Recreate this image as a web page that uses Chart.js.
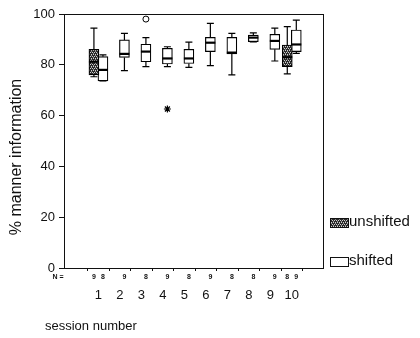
<!DOCTYPE html>
<html>
<head>
<meta charset="utf-8">
<script src="https://cdn.jsdelivr.net/npm/chart.js@4"></script>
<style>
  html, body { margin: 0; padding: 0; background: #fff; }
  #wrap { width: 420px; height: 338px; }
</style>
</head>
<body>
<div id="wrap"><canvas id="boxChart" width="420" height="338"></canvas></div>
<script>
// sessions and five-number summaries
const sessions = [1, 2, 3, 4, 5, 6, 7, 8, 9, 10];
const shiftedMin = [73.7, 77.7, 79.3, 79.3, 79.0, 79.7, 76.0, 89.0, 81.5, 84.5];
const shiftedQ1 = [73.7, 82.9, 81.2, 80.3, 80.5, 85.2, 84.3, 89.1, 86.1, 85.2];
const shiftedMed = [78.0, 84.3, 85.2, 82.5, 82.5, 88.7, 84.8, 90.7, 89.4, 88.0];
const shiftedQ3 = [83.2, 89.8, 88.1, 86.5, 86.1, 90.8, 90.8, 91.7, 92.0, 93.7];
const shiftedMax = [83.9, 92.4, 90.7, 87.1, 88.9, 96.3, 92.4, 92.6, 94.4, 97.6];
const shiftedN = ['8', '9', '8', '9', '8', '9', '8', '8', '9', '9'];

const unshiftedSessions = [1, 10];
const unshiftedMin = [75.3, 76.4];
const unshiftedQ1 = [76.0, 79.3];
const unshiftedMed = [81.2, 83.0];
const unshiftedQ3 = [86.1, 87.8];
const unshiftedMax = [94.4, 95.0];
const unshiftedN = ['9', '8'];

const outlierSessions = [3];
const outlierValues = [98];
const extremeSessions = [4];
const extremeValues = [62.6];

const yTicks = [0, 20, 40, 60, 80, 100];

const SLOT = 0.21;
const FONT = '"Liberation Sans", Arial, sans-serif';

function makeHatch() {
    const c = document.createElement('canvas');
    c.width = 4; c.height = 4;
    const g = c.getContext('2d');
    g.fillStyle = '#2a2a2a';
    g.fillRect(0, 0, 4, 4);
    g.fillStyle = '#d0d0d0';
    g.fillRect(0, 0, 1, 1);
    g.fillRect(2, 0, 1, 1);
    g.fillRect(1, 2, 1, 1);
    g.fillRect(3, 2, 1, 1);
    g.fillStyle = '#888';
    g.fillRect(1, 1, 1, 1);
    g.fillRect(3, 3, 1, 1);
    return g.createPattern(c, 'repeat');
}
const hatch = makeHatch();

const shiftedBoxes = sessions.map((s, i) => ({ x: s + SLOT, y: [shiftedQ1[i], shiftedQ3[i]] }));
const unshiftedBoxes = unshiftedSessions.map((s, i) => ({ x: s - SLOT, y: [unshiftedQ1[i], unshiftedQ3[i]] }));

const boxExtras = {
    id: 'boxExtras',
    afterDatasetsDraw(chart) {
        const ctx = chart.ctx;
        const xs = chart.scales.x, ys = chart.scales.y;
        const area = chart.chartArea;

        function whiskers(x, mn, q1, med, q3, mx) {
            const px = xs.getPixelForValue(x);
            ctx.strokeStyle = '#000';
            ctx.lineWidth = 1.2;
            ctx.beginPath();
            ctx.moveTo(px, ys.getPixelForValue(q3));
            ctx.lineTo(px, ys.getPixelForValue(mx));
            ctx.moveTo(px - 3.5, ys.getPixelForValue(mx));
            ctx.lineTo(px + 3.5, ys.getPixelForValue(mx));
            ctx.moveTo(px, ys.getPixelForValue(q1));
            ctx.lineTo(px, ys.getPixelForValue(mn));
            ctx.moveTo(px - 3.5, ys.getPixelForValue(mn));
            ctx.lineTo(px + 3.5, ys.getPixelForValue(mn));
            ctx.stroke();
            ctx.lineWidth = 2.2;
            ctx.beginPath();
            ctx.moveTo(px - 5, ys.getPixelForValue(med));
            ctx.lineTo(px + 5, ys.getPixelForValue(med));
            ctx.stroke();
        }
        sessions.forEach((s, i) => whiskers(s + SLOT, shiftedMin[i], shiftedQ1[i], shiftedMed[i], shiftedQ3[i], shiftedMax[i]));
        unshiftedSessions.forEach((s, i) => whiskers(s - SLOT, unshiftedMin[i], unshiftedQ1[i], unshiftedMed[i], unshiftedQ3[i], unshiftedMax[i]));

        // frame
        ctx.strokeStyle = '#111';
        ctx.lineWidth = 1;
        ctx.strokeRect(area.left + 0.5, area.top + 0.5, area.right - area.left, area.bottom - area.top);

        // N row
        ctx.fillStyle = '#111';
        ctx.font = 'bold 7px ' + FONT;
        ctx.textAlign = 'center';
        ctx.textBaseline = 'middle';
        ctx.fillText('N =', 58, 277);
        sessions.forEach((s, i) => ctx.fillText(shiftedN[i], xs.getPixelForValue(s + SLOT), 277));
        unshiftedSessions.forEach((s, i) => ctx.fillText(unshiftedN[i], xs.getPixelForValue(s - SLOT), 277));

        // axis titles
        ctx.font = '13px ' + FONT;
        ctx.textAlign = 'left';
        ctx.fillText('session number', 45, 326);
        ctx.save();
        ctx.translate(17, 157);
        ctx.rotate(-Math.PI / 2);
        ctx.textAlign = 'center';
        ctx.font = '16px ' + FONT;
        ctx.fillText('% manner information', 0, 0);
        ctx.restore();

        // legend
        const items = [
            { label: 'unshifted', fill: hatch, y: 218 },
            { label: 'shifted', fill: '#fff', y: 257 }
        ];
        items.forEach(it => {
            ctx.fillStyle = it.fill;
            ctx.fillRect(330, it.y, 18, 9);
            ctx.strokeStyle = '#111';
            ctx.lineWidth = 1;
            ctx.strokeRect(330.5, it.y + 0.5, 18, 9);
            ctx.fillStyle = '#111';
            ctx.font = '15px ' + FONT;
            ctx.textAlign = 'left';
            ctx.textBaseline = 'middle';
            ctx.fillText(it.label, 349, it.y + 4);
        });
    }
};

new Chart(document.getElementById('boxChart'), {
    type: 'bar',
    data: {
        datasets: [
            {
                label: 'unshifted',
                data: unshiftedBoxes,
                backgroundColor: hatch,
                borderColor: '#000',
                borderWidth: 1.2,
                borderSkipped: false,
                barThickness: 10,
                grouped: false
            },
            {
                label: 'shifted',
                data: shiftedBoxes,
                backgroundColor: '#fff',
                borderColor: '#000',
                borderWidth: 1.2,
                borderSkipped: false,
                barThickness: 10,
                grouped: false
            },
            {
                type: 'scatter',
                label: 'outlier',
                data: outlierSessions.map((s, i) => ({ x: s + SLOT, y: outlierValues[i] })),
                pointStyle: 'circle',
                radius: 3,
                backgroundColor: '#fff',
                borderColor: '#000',
                borderWidth: 1
            },
            {
                type: 'scatter',
                label: 'extreme',
                data: extremeSessions.map((s, i) => ({ x: s + SLOT, y: extremeValues[i] })),
                pointStyle: 'star',
                radius: 3.5,
                backgroundColor: '#000',
                borderColor: '#000',
                borderWidth: 1.2
            }
        ]
    },
    options: {
        responsive: false,
        animation: false,
        layout: { padding: { top: 14, right: 97, left: 0, bottom: 0 } },
        plugins: {
            legend: { display: false },
            tooltip: { enabled: false }
        },
        scales: {
            x: {
                type: 'linear',
                min: 0,
                max: 10.85,
                afterFit: s => { s.height = 70; },
                afterBuildTicks: s => { s.ticks = sessions.map(v => ({ value: v })); },
                grid: { drawOnChartArea: false, tickLength: 3, color: '#111' },
                border: { color: '#111' },
                ticks: {
                    padding: 17,
                    maxRotation: 0,
                    color: '#111',
                    font: { family: FONT, size: 13 }
                }
            },
            y: {
                min: 0,
                max: 100,
                afterFit: s => { s.width = 64; },
                afterBuildTicks: s => { s.ticks = yTicks.map(v => ({ value: v })); },
                grid: { drawOnChartArea: false, tickLength: 5, color: '#111' },
                border: { color: '#111' },
                ticks: {
                    padding: 4,
                    color: '#111',
                    font: { family: FONT, size: 13 }
                }
            }
        }
    },
    plugins: [boxExtras]
});
</script>
</body>
</html>
